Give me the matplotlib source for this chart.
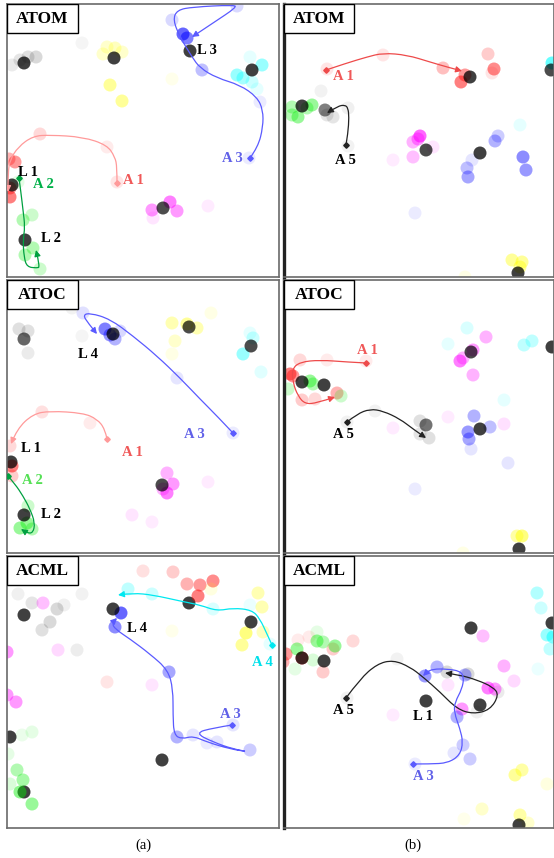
import matplotlib
matplotlib.use("Agg")
import matplotlib.pyplot as plt
from matplotlib.patches import Circle, Rectangle, FancyArrowPatch
from matplotlib.path import Path

plt.rcParams["font.family"] = ["Liberation Serif", "DejaVu Serif"]

W, H = 554, 858

# ---- agent / landmark positions per panel: (x, y, colour, opacity) ----
ATOM_A_POINTS = [
    (75, 39, "k", 0.04), (5, 61, "k", 0.08), (13, 56, "k", 0.1), (21, 53, "k", 0.12), (29, 53, "k", 0.15),
    (100, 43, "y", 0.2), (108, 44, "y", 0.25), (115, 48, "y", 0.2), (96, 50, "y", 0.2),
    (103, 81, "y", 0.4), (115, 97, "y", 0.4), (165, 75, "y", 0.08),
    (165, 16, "b", 0.15), (230, 2, "b", 0.15), (176, 30, "b", 0.6), (180, 34, "b", 0.5),
    (195, 66, "b", 0.25), (253, 98, "b", 0.08), (242, 154, "b", 0.08),
    (243, 53, "c", 0.1), (255, 61, "c", 0.4), (230, 71, "c", 0.4), (236, 74, "c", 0.35),
    (245, 78, "c", 0.2), (250, 85, "c", 0.1),
    (33, 130, "r", 0.15), (100, 143, "r", 0.08), (110, 178, "r", 0.1), (8, 158, "r", 0.4),
    (2, 155, "r", 0.3), (3, 184, "r", 0.4), (3, 193, "r", 0.5),
    (11, 178, "g", 0.1), (25, 211, "g", 0.2), (16, 216, "g", 0.3), (18, 251, "g", 0.3),
    (26, 244, "g", 0.3), (33, 265, "g", 0.2),
    (145, 206, "m", 0.4), (163, 198, "m", 0.5), (170, 207, "m", 0.4), (146, 214, "m", 0.1),
    (201, 202, "m", 0.08),
    (17, 59, "k", 0.75), (107, 54, "k", 0.75), (183, 47, "k", 0.75), (245, 66, "k", 0.75),
    (5, 181, "k", 0.75), (18, 236, "k", 0.75), (156, 204, "k", 0.7),
]
ATOM_B_POINTS = [
    (43, 65, "r", 0.1), (99, 51, "r", 0.1), (159, 64, "r", 0.25), (204, 50, "r", 0.2),
    (210, 65, "r", 0.45), (208, 69, "r", 0.1), (181, 71, "r", 0.4), (177, 78, "r", 0.5),
    (268, 59, "c", 0.6), (236, 121, "c", 0.1),
    (37, 87, "k", 0.05), (49, 113, "k", 0.1), (43, 111, "k", 0.1), (64, 104, "k", 0.06),
    (64, 142, "k", 0.05), (41, 106, "k", 0.5),
    (8, 103, "g", 0.3), (8, 111, "g", 0.3), (14, 113, "g", 0.4), (28, 101, "g", 0.4), (23, 104, "g", 0.3),
    (136, 132, "m", 0.6), (134, 135, "m", 0.4), (129, 138, "m", 0.3), (149, 143, "m", 0.1),
    (129, 153, "m", 0.25), (109, 156, "m", 0.08),
    (214, 132, "b", 0.2), (211, 137, "b", 0.3), (188, 156, "b", 0.1), (183, 164, "b", 0.25),
    (184, 173, "b", 0.35), (239, 153, "b", 0.45), (242, 166, "b", 0.4), (131, 209, "b", 0.08),
    (228, 256, "y", 0.4), (238, 258, "y", 0.4), (236, 263, "y", 0.4), (181, 273, "y", 0.1),
    (186, 73, "k", 0.75), (267, 66, "k", 0.7), (18, 102, "k", 0.75), (142, 146, "k", 0.7),
    (196, 149, "k", 0.75), (234, 269, "k", 0.75),
]
ATOC_A_POINTS = [
    (12, 49, "k", 0.12), (21, 51, "k", 0.12), (21, 73, "k", 0.08), (65, 28, "k", 0.05), (75, 56, "k", 0.04),
    (76, 33, "b", 0.12), (98, 49, "b", 0.5), (103, 55, "b", 0.4), (113, 51, "b", 0.15),
    (108, 59, "b", 0.3), (170, 98, "b", 0.1), (226, 153, "b", 0.08),
    (165, 43, "y", 0.3), (180, 44, "y", 0.4), (190, 48, "y", 0.3), (168, 61, "y", 0.2),
    (165, 74, "y", 0.1), (204, 33, "y", 0.1),
    (243, 53, "c", 0.1), (246, 58, "c", 0.2), (236, 74, "c", 0.4), (254, 92, "c", 0.12),
    (35, 132, "r", 0.12), (83, 143, "r", 0.08), (3, 166, "r", 0.15), (5, 186, "r", 0.5), (5, 196, "r", 0.2),
    (21, 226, "g", 0.2), (13, 248, "g", 0.4), (25, 249, "g", 0.3), (20, 243, "g", 0.4),
    (160, 193, "m", 0.3), (166, 204, "m", 0.4), (160, 213, "m", 0.5), (156, 209, "m", 0.3),
    (201, 202, "m", 0.08), (125, 235, "m", 0.1), (145, 242, "m", 0.08),
    (17, 59, "k", 0.6), (106, 54, "k", 0.75), (182, 47, "k", 0.7), (244, 66, "k", 0.7),
    (4, 182, "k", 0.75), (17, 235, "k", 0.75), (155, 205, "k", 0.7),
]
ATOC_B_POINTS = [
    (16, 80, "r", 0.15), (43, 80, "r", 0.08), (82, 81, "r", 0.08), (6, 94, "r", 0.5), (9, 96, "r", 0.4),
    (18, 120, "r", 0.2), (31, 119, "r", 0.15), (53, 113, "r", 0.3),
    (4, 109, "g", 0.2), (26, 101, "g", 0.4), (29, 104, "g", 0.3), (57, 116, "g", 0.2),
    (63, 142, "k", 0.05), (91, 131, "k", 0.05), (136, 141, "k", 0.12), (136, 154, "k", 0.1),
    (145, 158, "k", 0.12), (142, 145, "k", 0.55),
    (176, 81, "m", 0.5), (179, 78, "m", 0.3), (189, 70, "m", 0.4), (202, 57, "m", 0.3),
    (189, 95, "m", 0.3), (164, 137, "m", 0.08), (109, 148, "m", 0.08), (220, 144, "m", 0.12),
    (183, 48, "c", 0.15), (164, 64, "c", 0.1), (240, 65, "c", 0.25), (248, 61, "c", 0.25),
    (220, 120, "c", 0.1),
    (190, 136, "b", 0.3), (206, 147, "b", 0.25), (184, 152, "b", 0.4), (185, 159, "b", 0.35),
    (187, 169, "b", 0.1), (224, 183, "b", 0.1), (131, 209, "b", 0.08),
    (233, 256, "y", 0.35), (238, 256, "y", 0.5), (179, 273, "y", 0.1),
    (18, 102, "k", 0.75), (40, 105, "k", 0.75), (187, 72, "k", 0.7), (268, 67, "k", 0.75),
    (196, 149, "k", 0.75), (235, 269, "k", 0.75),
]
ACML_A_POINTS = [
    (182, 47, "k", 0.75), (17, 236, "k", 0.75),
    (136, 15, "r", 0.12), (166, 16, "r", 0.2), (180, 28, "r", 0.3), (193, 29, "r", 0.4),
    (206, 25, "r", 0.45), (191, 40, "r", 0.5), (100, 126, "r", 0.1),
    (121, 33, "c", 0.25), (145, 38, "c", 0.2), (206, 53, "c", 0.15), (243, 49, "c", 0.08), (263, 88, "c", 0.1),
    (251, 37, "y", 0.3), (255, 51, "y", 0.3), (256, 76, "y", 0.25), (239, 77, "y", 0.5),
    (235, 89, "y", 0.4), (165, 75, "y", 0.08), (204, 33, "y", 0.12),
    (11, 38, "k", 0.06), (25, 47, "k", 0.1), (50, 53, "k", 0.15), (57, 49, "k", 0.06),
    (43, 66, "k", 0.15), (35, 74, "k", 0.12), (75, 38, "k", 0.05), (70, 94, "k", 0.07),
    (36, 47, "m", 0.25), (51, 94, "m", 0.15), (0, 96, "m", 0.4), (0, 139, "m", 0.4),
    (9, 146, "m", 0.4), (145, 129, "m", 0.1),
    (114, 57, "b", 0.6), (108, 71, "b", 0.45), (162, 116, "b", 0.35), (170, 181, "b", 0.3),
    (186, 179, "b", 0.1), (200, 187, "b", 0.08), (210, 186, "b", 0.1), (243, 194, "b", 0.2),
    (226, 169, "b", 0.1),
    (15, 179, "g", 0.08), (25, 176, "g", 0.1), (1, 198, "g", 0.1), (10, 214, "g", 0.3),
    (16, 224, "g", 0.35), (3, 228, "g", 0.15), (13, 236, "g", 0.45), (25, 248, "g", 0.4),
    (244, 66, "k", 0.75), (17, 59, "k", 0.75), (106, 53, "k", 0.75),
    (3, 181, "k", 0.75), (155, 204, "k", 0.75),
]
ACML_B_POINTS = [
    (2, 98, "r", 0.4), (-1, 106, "r", 0.3), (14, 84, "r", 0.08), (25, 81, "r", 0.08),
    (39, 116, "r", 0.2), (49, 93, "r", 0.2), (69, 85, "r", 0.15), (18, 102, "r", 0.5),
    (33, 76, "g", 0.1), (33, 85, "g", 0.4), (39, 86, "g", 0.3), (13, 93, "g", 0.4),
    (51, 90, "g", 0.4), (29, 104, "g", 0.15), (11, 113, "g", 0.1),
    (113, 103, "k", 0.05), (163, 116, "k", 0.15), (184, 118, "k", 0.15), (214, 136, "k", 0.08),
    (193, 156, "k", 0.06), (63, 142, "k", 0.05),
    (199, 80, "m", 0.25), (220, 110, "m", 0.3), (230, 125, "m", 0.15), (204, 132, "m", 0.5),
    (211, 133, "m", 0.4), (178, 153, "m", 0.4), (164, 129, "m", 0.1), (109, 159, "m", 0.08),
    (141, 120, "b", 0.4), (153, 111, "b", 0.3), (181, 119, "b", 0.3), (173, 161, "b", 0.3),
    (179, 189, "b", 0.2), (170, 197, "b", 0.1), (186, 203, "b", 0.2), (131, 208, "b", 0.08),
    (253, 37, "c", 0.3), (257, 52, "c", 0.2), (263, 79, "c", 0.4), (269, 81, "c", 0.5),
    (266, 93, "c", 0.25), (254, 113, "c", 0.08),
    (231, 219, "y", 0.4), (238, 214, "y", 0.35), (263, 228, "y", 0.12), (198, 253, "y", 0.2),
    (180, 263, "y", 0.08), (236, 259, "y", 0.35), (244, 267, "y", 0.2),
    (18, 102, "k", 0.75), (40, 105, "k", 0.75), (187, 72, "k", 0.75), (142, 145, "k", 0.75),
    (196, 149, "k", 0.75), (268, 67, "k", 0.75), (235, 269, "k", 0.75),
]

# ---- trajectories: (waypoints, colour key) ----
ATOM_A_PATHS = [
    ([(110, 179), (110, 163), (108, 153), (100, 141), (76, 133), (43, 131), (26, 132),
      (11, 143), (3, 156), (1, 169), (1, 188)], "r_light"),
    ([(12, 174), (14, 189), (16, 206), (18, 223), (16, 236), (17, 253), (20, 263),
      (30, 264), (33, 263), (29, 246)], "g_line"),
    ([(243, 154), (251, 143), (256, 123), (256, 106), (250, 93), (233, 81), (210, 74),
      (193, 64), (185, 53), (173, 33), (166, 16), (170, 6), (186, 3), (226, 1), (230, 3),
      (206, 19), (185, 33)], "b_line"),
]
ATOM_B_PATHS = [
    ([(42, 66), (63, 59), (83, 53), (99, 49), (123, 51), (146, 58), (163, 63), (178, 67)], "r_line"),
    ([(62, 141), (64, 129), (65, 113), (64, 104), (61, 101), (54, 102), (43, 109)], "k_line"),
]
ATOC_A_PATHS = [
    ([(226, 153), (210, 136), (193, 119), (173, 98), (150, 76), (126, 56), (103, 39),
      (83, 33), (76, 35), (81, 43), (90, 54)], "b_line"),
    ([(100, 159), (98, 149), (90, 139), (76, 133), (43, 131), (26, 134), (10, 149), (4, 164)], "r_light"),
    ([(1, 196), (8, 204), (16, 216), (23, 229), (28, 243), (26, 253), (20, 253), (14, 249)], "g_line"),
]
ATOC_B_PATHS = [
    ([(82, 83), (63, 82), (36, 80), (16, 82), (8, 89), (9, 103), (14, 116), (21, 124),
      (33, 123), (51, 117)], "r_line"),
    ([(63, 142), (73, 134), (86, 129), (99, 131), (116, 139), (129, 149), (142, 158)], "k_line"),
]
ACML_A_PATHS = [
    ([(265, 89), (260, 78), (253, 63), (245, 54), (226, 52), (210, 55), (193, 49),
      (173, 45), (146, 39), (126, 37), (111, 39)], "c_line"),
    ([(225, 169), (206, 172), (188, 177), (206, 186), (226, 193), (243, 196), (223, 193),
      (200, 186), (186, 180), (175, 183), (167, 179), (166, 159), (166, 133), (161, 114),
      (143, 98), (123, 83), (108, 73), (105, 67), (110, 62)], "b_line"),
]
ACML_B_PATHS = [
    ([(62, 142), (76, 123), (93, 108), (109, 104), (126, 111), (139, 121), (156, 136),
      (173, 153), (189, 158), (206, 154), (215, 139), (209, 131), (193, 124), (176, 119),
      (161, 117)], "k_line"),
    ([(129, 208), (146, 208), (164, 207), (176, 199), (179, 186), (176, 173), (170, 156),
      (171, 146), (178, 133), (180, 121), (176, 115), (163, 113), (149, 113), (143, 116),
      (139, 120)], "b_line"),
]

# ---- agent / landmark labels: (text, x, y, colour key) ----
ATOM_A_LABELS = [("L 3", 200, 47, "k_text"), ("L 1", 21, 169, "k_text"), ("A 2", 36, 181, "g_text"),
                 ("A 1", 126, 176, "r_text"), ("L 2", 44, 235, "k_text"), ("A 3", 225, 154, "b_text")]
ATOM_B_LABELS = [("A 1", 59, 73, "r_text"), ("A 5", 61, 156, "k_text")]
ATOC_A_LABELS = [("L 4", 81, 74, "k_text"), ("A 3", 187, 154, "b_text"), ("L 1", 24, 168, "k_text"),
                 ("A 1", 125, 172, "r_text"), ("A 2", 25, 201, "g_text_light"), ("L 2", 44, 234, "k_text")]
ATOC_B_LABELS = [("A 1", 83, 71, "r_text"), ("A 5", 59, 155, "k_text")]
ACML_A_LABELS = [("L 4", 130, 73, "k_text"), ("A 4", 255, 107, "c_text"), ("A 3", 223, 159, "b_text")]
ACML_B_LABELS = [("A 5", 59, 155, "k_text"), ("L 1", 139, 161, "k_text"), ("A 3", 139, 220, "b_text")]

METHODS = ["ATOM", "ATOM", "ATOC", "ATOC", "ACML", "ACML"]
SUBFIG_LABELS = ["(a)", "(b)"]

COLORS = {
    "r": "#ff0000", "g": "#00ee00", "b": "#0000ff", "c": "#00ffff",
    "y": "#ffff00", "m": "#ff00ff", "k": "#000000",
    "r_light": "#ff9a9a", "r_line": "#ee4a4a", "g_line": "#00a040", "b_line": "#5a5aff",
    "k_line": "#222222", "c_line": "#00e8f0",
    "r_text": "#f05858", "g_text": "#00b048", "g_text_light": "#55e055", "b_text": "#6060e8",
    "c_text": "#00e0ea", "k_text": "#000000",
}

# panel bounds in pixels: (left, top, right, bottom)
BOUNDS = [(7, 4, 279, 277), (284, 4, 554, 277),
          (7, 280, 279, 553), (284, 280, 554, 553),
          (7, 556, 279, 828), (284, 556, 554, 828)]

PANELS = [
    (ATOM_A_POINTS, ATOM_A_PATHS, ATOM_A_LABELS),
    (ATOM_B_POINTS, ATOM_B_PATHS, ATOM_B_LABELS),
    (ATOC_A_POINTS, ATOC_A_PATHS, ATOC_A_LABELS),
    (ATOC_B_POINTS, ATOC_B_PATHS, ATOC_B_LABELS),
    (ACML_A_POINTS, ACML_A_PATHS, ACML_A_LABELS),
    (ACML_B_POINTS, ACML_B_PATHS, ACML_B_LABELS),
]


def smooth_path(pts):
    """Quadratic-bezier path through waypoint midpoints."""
    verts = [pts[0]]
    codes = [Path.MOVETO]
    for i in range(1, len(pts) - 1):
        mid = ((pts[i][0] + pts[i + 1][0]) / 2, (pts[i][1] + pts[i + 1][1]) / 2)
        if i == len(pts) - 2:
            mid = pts[-1]
        verts += [pts[i], mid]
        codes += [Path.CURVE3, Path.CURVE3]
    if len(pts) == 2:
        verts.append(pts[1])
        codes.append(Path.LINETO)
    return Path(verts, codes)


fig = plt.figure(figsize=(W / 100, H / 100), dpi=100)
R = 6.5

for idx, ((pts, paths, labels), (l, t, r, b), method) in enumerate(zip(PANELS, BOUNDS, METHODS)):
    ax = fig.add_axes([l / W, 1 - b / H, (r - l) / W, (b - t) / H])
    w, h = r - l, b - t
    ax.set_xlim(0, w)
    ax.set_ylim(h, 0)
    ax.set_xticks([])
    ax.set_yticks([])
    for s in ax.spines.values():
        s.set_color("#6a6a6a")
        s.set_linewidth(1.2)
    if idx % 2 == 1:
        ax.spines["left"].set_color("#222222")
        ax.spines["left"].set_linewidth(2.4)

    for x, y, c, a in pts:
        ax.add_patch(Circle((x, y), R, facecolor=COLORS[c], edgecolor="none", alpha=a, zorder=2))

    for wp, c in paths:
        col = COLORS[c]
        arrow = FancyArrowPatch(path=smooth_path(wp), arrowstyle="-|>", mutation_scale=9,
                                lw=0.9, color=col, zorder=4)
        ax.add_patch(arrow)
        ax.plot([wp[0][0]], [wp[0][1]], marker="D", ms=2.8, color=col, zorder=5)

    for txt, x, y, c in labels:
        ax.text(x, y, txt, color=COLORS[c], fontsize=10.5, fontweight="bold",
                ha="center", va="center", zorder=6)

    bw = 71 if idx % 2 == 0 else 70
    ax.add_patch(Rectangle((0, 0), bw, 29, facecolor="white", edgecolor="black", lw=1.0, zorder=7))
    ax.text(bw / 2, 15, method, fontsize=12.5, fontweight="bold", ha="center", va="center", zorder=8)

fig.text(143 / W, 1 - 845 / H, SUBFIG_LABELS[0], ha="center", va="center", fontsize=10.5)
fig.text(413 / W, 1 - 845 / H, SUBFIG_LABELS[1], ha="center", va="center", fontsize=10.5)

fig.savefig("out.png", dpi=100)
